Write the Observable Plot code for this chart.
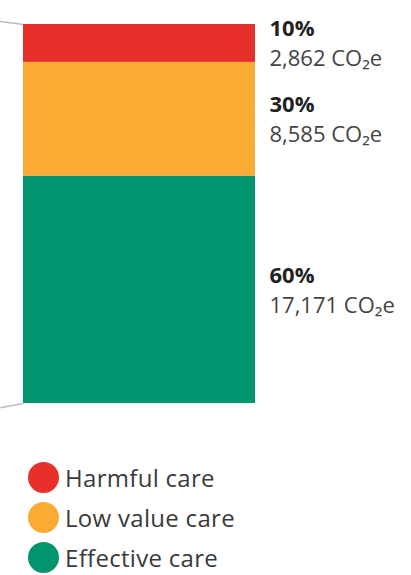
<!DOCTYPE html>
<html>
<head>
<meta charset="utf-8">
<script src="https://cdn.jsdelivr.net/npm/d3@7"></script>
<script src="https://cdn.jsdelivr.net/npm/@observablehq/plot@0.6"></script>
<style>
  html, body { margin: 0; padding: 0; background: #fff; }
  body { width: 411px; height: 575px; overflow: hidden; font-family: "Open Sans", sans-serif; }
  #legend { margin-top: 27px; padding-left: 28px; }
  .row { display: flex; align-items: center; height: 40px; font-size: 24px; color: #3a3a3a; letter-spacing: 0.3px; }
  .sw { width: 31px; height: 31px; border-radius: 50%; margin-right: 6px; flex: none; }
</style>
</head>
<body>
<div id="chart"></div>
<div id="legend"></div>
<script>
// Data (top to bottom of the bar)
const categories = ["Harmful care", "Low value care", "Effective care"];
const shares = [10, 30, 60];                 // percent of total
const emissions = [2862, 8585, 17171];       // CO2e
const colors = ["#e8302a", "#f9ab33", "#00956f"];
// Zoom connector lines from a preceding chart (y value at the left edge of the picture)
const connectorEnds = [100.8, -1.1];
const connectorStarts = [100, 0];

// Build stacked table: bottom-up stacking
const rows = categories.map((c, i) => ({category: c, share: shares[i], value: emissions[i], color: colors[i]}));
const bottomUp = rows.slice().reverse();
let acc = 0;
for (const r of bottomUp) { r.y1 = acc; r.y2 = acc + r.share; r.mid = (r.y1 + r.y2) / 2; acc = r.y2; }

const connectors = connectorEnds.map((e, i) => ({x1: -0.1, y1: e, x2: 0, y2: connectorStarts[i]}));

const fmt = d3.format(",");

const chart = Plot.plot({
  width: 411,
  height: 430,
  marginLeft: 23,
  marginRight: 156,
  marginTop: 24,
  marginBottom: 27,
  style: {fontFamily: "Open Sans, sans-serif", overflow: "visible"},
  x: {domain: [0, 1], axis: null},
  y: {domain: [0, 100], axis: null},
  marks: [
    Plot.link(connectors, {x1: "x1", y1: "y1", x2: "x2", y2: "y2", stroke: "#b8bcc2", strokeWidth: 1.5, clip: false}),
    Plot.rect(bottomUp, {x1: 0, x2: 1, y1: "y1", y2: "y2", fill: "color"}),
    Plot.text(bottomUp, {x: 1, y: "mid", text: d => d.share + "%", textAnchor: "start", dx: 14, dy: -14,
      fontSize: 22, fontWeight: 700, fill: "#222", letterSpacing: 1}),
    Plot.text(bottomUp, {x: 1, y: "mid", text: d => fmt(d.value) + " CO\u2082e", textAnchor: "start", dx: 14, dy: 16,
      fontSize: 22, fill: "#444", letterSpacing: 2.4})
  ]
});
document.getElementById("chart").appendChild(chart);

const legend = document.getElementById("legend");
rows.forEach(r => {
  const row = document.createElement("div");
  row.className = "row";
  const sw = document.createElement("span");
  sw.className = "sw";
  sw.style.background = r.color;
  const lab = document.createElement("span");
  lab.textContent = r.category;
  row.appendChild(sw); row.appendChild(lab);
  legend.appendChild(row);
});
</script>
</body>
</html>
